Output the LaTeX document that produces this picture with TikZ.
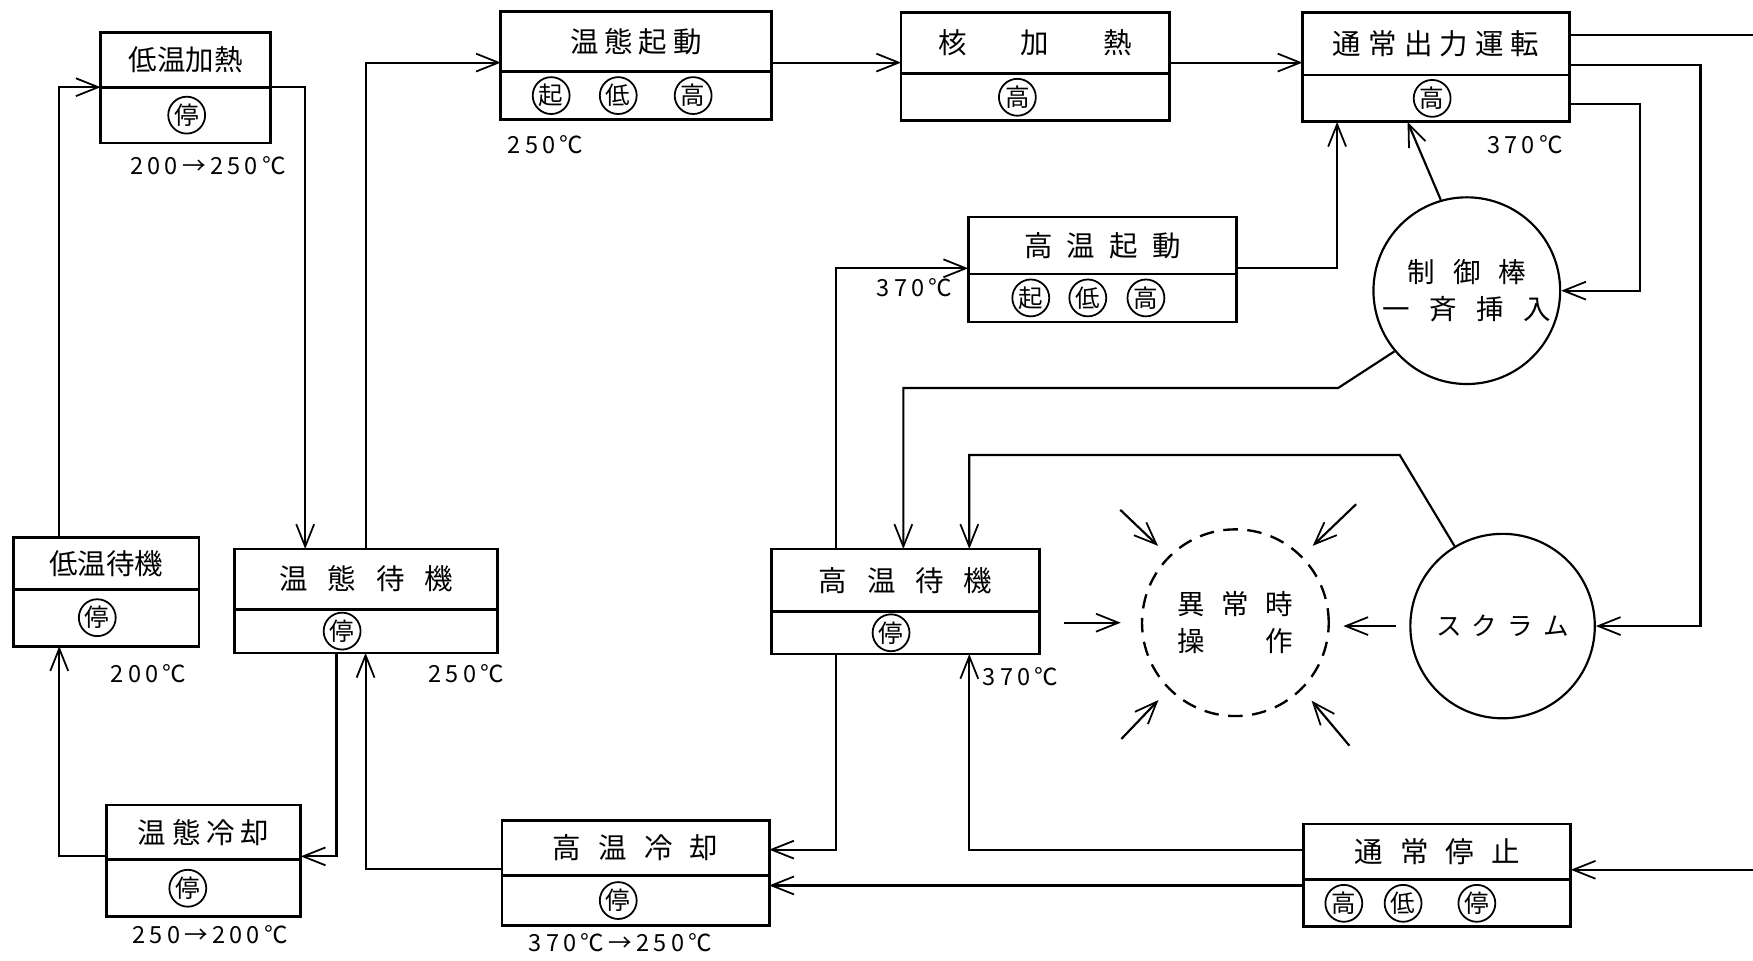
\documentclass[tikz,border=0pt]{standalone}
\usepackage{fontspec}
\setmainfont{Noto Sans CJK JP}
\newfontfamily\tmpfont[LetterSpace=18]{Noto Sans CJK JP}
\usepackage{tikz}
\usetikzlibrary{arrows.meta,positioning}
\tikzset{
  ttl/.style={draw, line width=1.4pt, inner sep=0pt, outer sep=0pt, font=\fontsize{14.5}{16}\selectfont},
  row/.style={draw, line width=1.4pt, inner sep=0pt, outer sep=0pt},
  maru/.style={draw, circle, line width=0.9pt, minimum size=6.6mm, inner sep=0pt, font=\fontsize{12.5}{13}\selectfont},
  tmp/.style={inner sep=0pt, font=\tmpfont\fontsize{12}{13}\selectfont},
  ring/.style={draw, circle, line width=1.1pt, minimum size=33.4mm, inner sep=0pt, align=center, font=\fontsize{14}{19}\selectfont},
  dring/.style={ring, line width=1.2pt, dash pattern=on 2.6mm off 1.7mm},
  link/.style={line width=1.1pt},
  arr/.style={line width=1.1pt, -{Straight Barb[length=4mm, width=3.2mm, line width=0.9pt]}}
}

\begin{document}
\begin{tikzpicture}[x=0.2mm,y=-0.2mm]
\useasboundingbox (0,0) rectangle (1568,859);

% state boxes: title row and mode row
\node[ttl, minimum width=30.4mm, minimum height=9.8mm] (lh-t) at (166,53.5) {低温加熱};
\node[row, minimum width=30.4mm, minimum height=10mm, below=0pt of lh-t] (lh-b) {};
\node[ttl, minimum width=48.4mm, minimum height=10.8mm] (ws-t) at (569,37) {温\hspace{.2em}態\hspace{.2em}起\hspace{.2em}動};
\node[row, minimum width=48.4mm, minimum height=8.6mm, below=0pt of ws-t] (ws-b) {};
\node[ttl, minimum width=48mm, minimum height=11mm] (nh-t) at (926,38.5) {核\hspace{1.9em}加\hspace{1.9em}熱};
\node[row, minimum width=48mm, minimum height=8.4mm, below=0pt of nh-t] (nh-b) {};
\node[ttl, minimum width=47.8mm, minimum height=11.2mm] (np-t) at (1284.5,39) {通\hspace{.25em}常\hspace{.25em}出\hspace{.25em}力\hspace{.25em}運\hspace{.25em}転};
\node[row, minimum width=47.8mm, minimum height=8.4mm, below=0pt of np-t] (np-b) {};
\node[ttl, minimum width=48mm, minimum height=10.2mm] (hs-t) at (986,219.5) {高\hspace{.5em}温\hspace{.5em}起\hspace{.5em}動};
\node[row, minimum width=48mm, minimum height=8.6mm, below=0pt of hs-t] (hs-b) {};
\node[ttl, minimum width=33.2mm, minimum height=9.2mm] (lw-t) at (95,504) {低温待機};
\node[row, minimum width=33.2mm, minimum height=10.2mm, below=0pt of lw-t] (lw-b) {};
\node[ttl, minimum width=47mm, minimum height=10.8mm] (ww-t) at (327.5,518) {温\hspace{.7em}態\hspace{.7em}待\hspace{.7em}機};
\node[row, minimum width=47mm, minimum height=7.8mm, below=0pt of ww-t] (ww-b) {};
\node[ttl, minimum width=48mm, minimum height=11.2mm] (hw-t) at (810,519) {高\hspace{.7em}温\hspace{.7em}待\hspace{.7em}機};
\node[row, minimum width=48mm, minimum height=7.6mm, below=0pt of hw-t] (hw-b) {};
\node[ttl, minimum width=34.8mm, minimum height=9.8mm] (wc-t) at (182,744.5) {温\hspace{.2em}態\hspace{.2em}冷\hspace{.2em}却};
\node[row, minimum width=34.8mm, minimum height=10.2mm, below=0pt of wc-t] (wc-b) {};
\node[ttl, minimum width=47.8mm, minimum height=9.8mm] (hc-t) at (568.5,758.5) {高\hspace{.6em}温\hspace{.6em}冷\hspace{.6em}却};
\node[row, minimum width=47.8mm, minimum height=9mm, below=0pt of hc-t] (hc-b) {};
\node[ttl, minimum width=47.8mm, minimum height=10mm] (ns-t) at (1285.5,762) {通\hspace{.6em}常\hspace{.6em}停\hspace{.6em}止};
\node[row, minimum width=47.8mm, minimum height=8.4mm, below=0pt of ns-t] (ns-b) {};

% circled modes
\node[maru] (lh-m) at (167,103) {停};
\node[maru] (ws-m1) at (493,85.5) {起};
\node[maru] (ws-m2) at (553,85.5) {低};
\node[maru] (ws-m3) at (620,85.5) {高};
\node[maru] (nh-m) at (910,87) {高};
\node[maru] (np-m) at (1281,88) {高};
\node[maru] (hs-m1) at (922,266.5) {起};
\node[maru] (hs-m2) at (973,266.5) {低};
\node[maru] (hs-m3) at (1025,266.5) {高};
\node[maru] (lw-m) at (87,552.5) {停};
\node[maru] (ww-m) at (306,564.5) {停};
\node[maru] (hw-m) at (797,566) {停};
\node[maru] (wc-m) at (168,794.5) {停};
\node[maru] (hc-m) at (553,805.5) {停};
\node[maru] (ns-m1) at (1202,808) {高};
\node[maru] (ns-m2) at (1255,808) {低};
\node[maru] (ns-m3) at (1321,808) {停};

% temperatures
\node[tmp] (lh-c) at (186,148) {200→250℃};
\node[tmp] (ws-c) at (488,129) {250℃};
\node[tmp] (np-c) at (1364,129) {370℃};
\node[tmp] (hs-c) at (818,257) {370℃};
\node[tmp] (lw-c) at (133,603) {200℃};
\node[tmp] (ww-c) at (417,603) {250℃};
\node[tmp] (hw-c) at (913,605) {370℃};
\node[tmp] (wc-c) at (188,836) {250→200℃};
\node[tmp] (hc-c) at (555,843) {370℃→250℃};

% round states
\node[ring] (rod) at (1312,260) {制\hspace{.65em}御\hspace{.65em}棒\\一\hspace{.7em}斉\hspace{.7em}挿\hspace{.7em}入};
\node[ring, minimum size=33mm, font=\fontsize{13}{16}\selectfont] (scram) at (1344,560) {ス\hspace{.4em}ク\hspace{.4em}ラ\hspace{.4em}ム};
\node[dring] (ab) at (1105,557) {異\hspace{.6em}常\hspace{.6em}時\\操\hspace{2.2em}作};

% lanes and levels
\coordinate (xa) at (53,0);
\coordinate (xb) at (273,0);
\coordinate (xc) at (327,0);
\coordinate (xd) at (301,0);
\coordinate (xe) at (748,0);
\coordinate (xf) at (808,0);
\coordinate (xg) at (867,0);
\coordinate (xh) at (1196,0);
\coordinate (xk) at (1259,0);
\coordinate (xi) at (1467,0);
\coordinate (xj) at (1521,0);
\coordinate (ya) at (0,56);
\coordinate (yc) at (0,31);
\coordinate (yd) at (0,58);
\coordinate (ye) at (0,93);
\coordinate (yf) at (0,240);
\coordinate (yg) at (0,766);
\coordinate (yh) at (0,777);
\coordinate (yi) at (0,760);
\coordinate (yj) at (0,792);
\coordinate (rimA) at (1568,31);
\coordinate (rimB) at (1568,778);
\coordinate (bendA) at (1197,347);
\coordinate (bendB) at (1252,407);
\coordinate (sTL) at (1002,456);
\coordinate (sTR) at (1213,451);
\coordinate (sBL) at (1003,661);
\coordinate (sBR) at (1207,667);

% start-up path
\draw[arr] (xa |- lw-t.north) |- (lh-t.south west);
\draw[arr] (lh-t.south east) -| (xb |- ww-t.north);
\draw[arr] (xc |- ww-t.north) |- (ws-t.west |- ya);
\draw[arr] (ws-t.east |- ya) -- (nh-t.west |- ya);
\draw[arr] (nh-t.east |- ya) -- (np-t.west |- ya);
\draw[arr] (xe |- hw-t.north) |- (hs-t.west |- yf);
\draw[arr] (hs-t.east |- yf) -| (xh |- np-b.south);

% from normal power operation
\draw[link] (np-t.east |- yc) -- (rimA);
\draw[arr] (np-t.east |- yd) -| (xj |- scram.east) -- (scram.east);
\draw[arr] (np-b.east |- ye) -| (xi |- rod.east) -- (rod.east);
\draw[arr] (rod.106) -- (xk |- np-b.south);
\draw[arr] (rod.220) -- (bendA) -| (xf |- hw-t.north);
\draw[arr] (scram.121) -- (bendB) -| (xg |- hw-t.north);

% abnormal operation
\draw[arr, shorten <=2.4mm, shorten >=2.4mm] (scram.west) -- (scram.west -| ab.east);
\draw[arr, shorten <=4.4mm, shorten >=3.6mm] (hw-b.east |- ab.west) -- (ab.west);
\draw[arr, shorten >=2.6mm] (sTL) -- (ab.135);
\draw[arr, shorten >=2.6mm] (sTR) -- (ab.45);
\draw[arr, shorten >=2.6mm] (sBL) -- (ab.225);
\draw[arr, shorten >=2.6mm] (sBR) -- (ab.315);

% shutdown and cooling
\draw[arr] (rimB) -- (ns-t.east |- rimB);
\draw[arr] (ns-t.west |- yi) -| (xg |- hw-b.south);
\draw[arr] (ns-b.west |- yj) -- (hc-b.east |- yj);
\draw[arr] (xe |- hw-b.south) |- (hc-t.east |- yi);
\draw[arr] (hc-t.west |- yh) -| (xc |- ww-b.south);
\draw[arr] (xd |- ww-b.south) |- (wc-t.east |- yg);
\draw[arr] (wc-t.west |- yg) -| (xa |- lw-b.south);
\end{tikzpicture}
\end{document}
